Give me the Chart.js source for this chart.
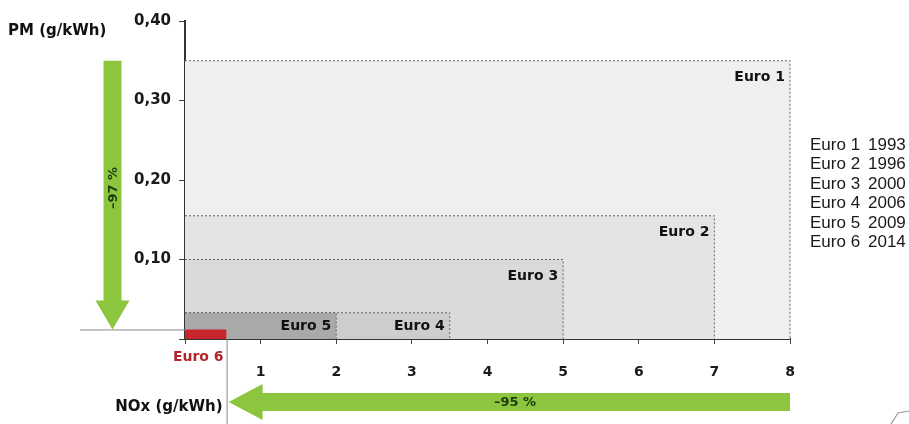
<!DOCTYPE html>
<html>
<head>
<meta charset="utf-8">
<script src="https://cdn.jsdelivr.net/npm/chart.js@4/dist/chart.umd.min.js"></script>
<style>
  html, body { margin: 0; padding: 0; background: #ffffff; }
  canvas { display: block; }
</style>
</head>
<body>
<canvas id="c" width="909" height="424"></canvas>
<script>
// ---- data ----
const categories = ['Euro 1', 'Euro 2', 'Euro 3', 'Euro 4', 'Euro 5', 'Euro 6'];
const years = ['1993', '1996', '2000', '2006', '2009', '2014'];
const noxLimits = [8, 7, 5, 3.5, 2, 0.55];          // g/kWh
const pmLimits = [0.35, 0.155, 0.10, 0.033, 0.033, 0.012]; // g/kWh
const xTickValues = [0, 1, 2, 3, 4, 5, 6, 7, 8];
const yTickValues = [0, 0.1, 0.2, 0.3, 0.4];
const noxReductionLabel = '–95 %';
const pmReductionLabel = '–97 %';
const xAxisTitle = 'NOx (g/kWh)';
const yAxisTitle = 'PM (g/kWh)';

// ---- styles ----
const boxFills = ['#efefef', '#e4e4e4', '#dadada', '#cdcdcd', '#a9a9a9', '#c8262c'];
const green = '#8cc63f';
const boldFont = '"DejaVu Sans", sans-serif';

const datasets = categories.map((name, i) => ({
  label: name,
  data: [
    { x: 0, y: pmLimits[i] },
    { x: noxLimits[i], y: pmLimits[i] },
    { x: noxLimits[i], y: 0 }
  ],
  fill: 'origin',
  backgroundColor: boxFills[i],
  borderColor: i === 5 ? 'rgba(0,0,0,0)' : '#666666',
  borderWidth: i === 5 ? 0 : 1,
  borderDash: [2, 2],
  pointRadius: 0,
  tension: 0,
  order: categories.length - 1 - i,
  clip: false
}));

const overlay = {
  id: 'overlay',
  afterDraw(chart) {
    const ctx = chart.ctx;
    const xs = chart.scales.x, ys = chart.scales.y;
    const y0 = ys.getPixelForValue(0);
    ctx.save();

    // thin gray guide lines at Euro 6 level
    const e6 = categories.length - 1;
    const yE6 = ys.getPixelForValue(pmLimits[e6]);
    const xE6 = xs.getPixelForValue(noxLimits[e6]);
    ctx.strokeStyle = '#8a8a8a';
    ctx.lineWidth = 1;
    ctx.beginPath();
    ctx.moveTo(80, yE6 + 0.5); ctx.lineTo(xs.left, yE6 + 0.5);
    ctx.moveTo(xE6 + 0.5, y0); ctx.lineTo(xE6 + 0.5, 424);
    ctx.stroke();

    // box labels
    ctx.font = 'bold 14px ' + boldFont;
    ctx.textAlign = 'right';
    ctx.textBaseline = 'middle';
    for (let i = 0; i < e6; i++) {
      const top = ys.getPixelForValue(pmLimits[i]);
      const ly = Math.min(top + 17, (top + y0) / 2);
      ctx.fillStyle = '#111';
      ctx.fillText(categories[i], xs.getPixelForValue(noxLimits[i]) - 5, ly);
    }
    // Euro 6 label (red, below axis)
    ctx.fillStyle = '#b3242a';
    ctx.fillText(categories[e6], xE6 - 3, 357);

    // axis titles
    ctx.fillStyle = '#111';
    ctx.textAlign = 'left';
    ctx.font = 'bold 15px ' + boldFont;
    ctx.fillText(yAxisTitle, 8, 31);
    ctx.textAlign = 'right';
    ctx.fillText(xAxisTitle, xE6 - 4, 407);

    // vertical green arrow (PM reduction)
    const ax = 112.5;
    const aTop = ys.getPixelForValue(pmLimits[0]);
    const aTip = yE6;
    const shaftHalf = 9, headHalf = 17, headLen = 29;
    ctx.fillStyle = green;
    ctx.beginPath();
    ctx.moveTo(ax - shaftHalf, aTop);
    ctx.lineTo(ax + shaftHalf, aTop);
    ctx.lineTo(ax + shaftHalf, aTip - headLen);
    ctx.lineTo(ax + headHalf, aTip - headLen);
    ctx.lineTo(ax, aTip);
    ctx.lineTo(ax - headHalf, aTip - headLen);
    ctx.lineTo(ax - shaftHalf, aTip - headLen);
    ctx.closePath();
    ctx.fill();
    ctx.save();
    ctx.translate(ax, 188);
    ctx.rotate(-Math.PI / 2);
    ctx.fillStyle = '#1f3a0c';
    ctx.font = 'bold 13px ' + boldFont;
    ctx.textAlign = 'center';
    ctx.textBaseline = 'middle';
    ctx.fillText(pmReductionLabel, 0, 1);
    ctx.restore();

    // horizontal green arrow (NOx reduction)
    const hy = 402;
    const hRight = xs.getPixelForValue(noxLimits[0]);
    const hTip = xE6 + 2;
    const hHead = 34, hHeadHalf = 18;
    ctx.fillStyle = green;
    ctx.beginPath();
    ctx.moveTo(hRight, hy - shaftHalf);
    ctx.lineTo(hRight, hy + shaftHalf);
    ctx.lineTo(hTip + hHead, hy + shaftHalf);
    ctx.lineTo(hTip + hHead, hy + hHeadHalf);
    ctx.lineTo(hTip, hy);
    ctx.lineTo(hTip + hHead, hy - hHeadHalf);
    ctx.lineTo(hTip + hHead, hy - shaftHalf);
    ctx.closePath();
    ctx.fill();
    ctx.fillStyle = '#1f3a0c';
    ctx.font = 'bold 13px ' + boldFont;
    ctx.textAlign = 'center';
    ctx.textBaseline = 'middle';
    ctx.fillText(noxReductionLabel, 515, hy + 1);

    // legend list (years)
    ctx.fillStyle = '#1a1a1a';
    ctx.font = '17px "Liberation Sans", Arial, sans-serif';
    ctx.textAlign = 'left';
    ctx.textBaseline = 'middle';
    for (let i = 0; i < categories.length; i++) {
      const ly = 145 + i * 19.5;
      ctx.fillText(categories[i], 810, ly);
      ctx.fillText(years[i], 868, ly);
    }

    // small corner mark
    ctx.strokeStyle = '#9a9a9a';
    ctx.lineWidth = 1.2;
    ctx.beginPath();
    ctx.moveTo(891, 424);
    ctx.lineTo(898, 413);
    ctx.lineTo(909, 411);
    ctx.stroke();

    ctx.restore();
  }
};

new Chart(document.getElementById('c'), {
  type: 'line',
  data: { datasets },
  plugins: [overlay],
  options: {
    responsive: false,
    animation: false,
    events: [],
    layout: { padding: { left: 0, right: 119, top: 21, bottom: 0 } },
    plugins: {
      legend: { display: false },
      tooltip: { enabled: false },
      filler: { drawTime: 'beforeDatasetDraw' }
    },
    scales: {
      x: {
        type: 'linear',
        min: 0, max: 8,
        afterBuildTicks: s => { s.ticks = xTickValues.map(v => ({ value: v })); },
        afterFit: s => { s.height = 85; },
        ticks: {
          callback: v => (v === 0 ? '' : String(v)),
          font: { family: boldFont, weight: 'bold', size: 14 },
          color: '#1a1a1a',
          padding: 20,
          maxRotation: 0
        },
        grid: { drawOnChartArea: false, tickLength: 5, tickColor: '#444', tickWidth: 1 },
        border: { color: '#333', width: 2 }
      },
      y: {
        type: 'linear',
        min: 0, max: 0.4,
        afterBuildTicks: s => { s.ticks = yTickValues.map(v => ({ value: v })); },
        afterFit: s => { s.width = 185; },
        ticks: {
          callback: v => (v === 0 ? '' : v.toFixed(2).replace('.', ',')),
          font: { family: boldFont, weight: 'bold', size: 15 },
          color: '#1a1a1a',
          padding: 8
        },
        grid: { drawOnChartArea: false, tickLength: 6, tickColor: '#444', tickWidth: 1 },
        border: { color: '#333', width: 2 }
      }
    }
  }
});
</script>
</body>
</html>
